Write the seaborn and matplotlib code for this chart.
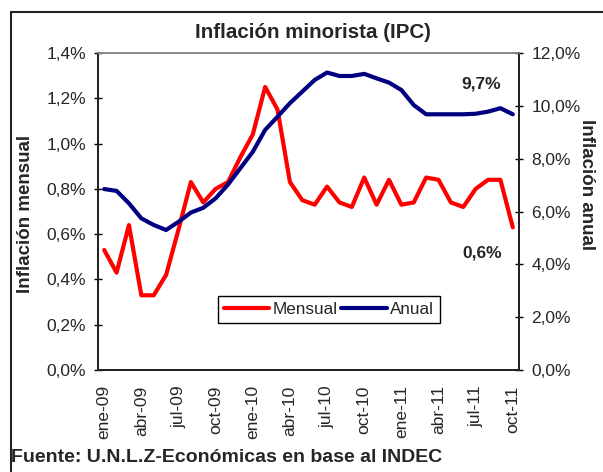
import numpy as np
import pandas as pd
import seaborn as sns
import matplotlib
matplotlib.use("Agg")
import matplotlib.pyplot as plt
from matplotlib.lines import Line2D

# Datos (ene-09 a oct-11)
meses = pd.date_range("2009-01-01", "2011-10-01", freq="MS")
mensual = [0.53, 0.43, 0.64, 0.33, 0.33, 0.42, 0.62, 0.83, 0.74, 0.80, 0.83, 0.94,
           1.04, 1.25, 1.15, 0.83, 0.75, 0.73, 0.81, 0.74, 0.72, 0.85, 0.73, 0.84,
           0.73, 0.74, 0.85, 0.84, 0.74, 0.72, 0.80, 0.84, 0.84, 0.63]
anual = [6.85, 6.78, 6.31, 5.74, 5.49, 5.30, 5.61, 5.96, 6.14, 6.50, 7.02, 7.64,
         8.26, 9.09, 9.59, 10.10, 10.54, 10.98, 11.26, 11.13, 11.13, 11.21, 11.04, 10.88,
         10.60, 10.03, 9.68, 9.68, 9.68, 9.68, 9.70, 9.78, 9.91, 9.68]
etiquetas_x = ['ene-09', 'abr-09', 'jul-09', 'oct-09', 'ene-10', 'abr-10',
               'jul-10', 'oct-10', 'ene-11', 'abr-11', 'jul-11', 'oct-11']
ticks_izq = [0.0, 0.2, 0.4, 0.6, 0.8, 1.0, 1.2, 1.4]
ticks_der = [0, 2, 4, 6, 8, 10, 12]

df = pd.DataFrame({'idx': np.arange(len(meses)), 'mensual': mensual, 'anual': anual})

sns.set_style("white")
plt.rcParams['font.family'] = ['Liberation Sans', 'DejaVu Sans']

W, H = 603, 472
fig = plt.figure(figsize=(W / 100, H / 100), dpi=100)
ax = fig.add_axes([98 / W, 1 - 370 / H, (519 - 98) / W, (370 - 53) / H])
ax2 = ax.twinx()

sns.lineplot(data=df, x='idx', y='mensual', ax=ax, color='#FF0000', linewidth=3.0, label='Mensual')
sns.lineplot(data=df, x='idx', y='anual', ax=ax2, color='#000080', linewidth=3.0, label='Anual')
for a in (ax, ax2):
    if a.get_legend() is not None:
        a.get_legend().remove()

ax.set_xlim(-0.5, len(meses) - 0.5)
ax.set_ylim(0, 1.4)
ax2.set_ylim(0, 12)

ax.set_xticks(np.arange(0, len(meses), 3))
ax.set_xticklabels(etiquetas_x, rotation=90, fontsize=12.5)
ax.set_xticks(np.arange(-0.5, len(meses), 1), minor=True)
ax.tick_params(axis='x', which='major', length=0, pad=11)
ax.tick_params(axis='x', which='minor', length=5.5, direction='inout', width=1, color='black')

ax.set_yticks(ticks_izq)
ax.set_yticklabels([f"{v:.1f}%".replace('.', ',') for v in ticks_izq], fontsize=12.5)
ax.tick_params(axis='y', length=5.5, direction='inout', width=1, color='black', pad=6, left=True)
ax2.set_yticks(ticks_der)
ax2.set_yticklabels([f"{v:.1f}%".replace('.', ',') for v in ticks_der], fontsize=12.5)
ax2.tick_params(axis='y', length=5.5, direction='inout', width=1, color='black', pad=6, right=True)

ax.set_xlabel('')
ax.set_ylabel('')
ax2.set_ylabel('')

for a in (ax, ax2):
    for s in ('left', 'right', 'bottom'):
        a.spines[s].set_color('#222222')
        a.spines[s].set_linewidth(1.4)
    a.spines['top'].set_color('#888888')
    a.spines['top'].set_linewidth(1.2)
    a.grid(False)

# leyenda combinada
handles = [ax.get_lines()[0], ax2.get_lines()[0]]
leg = ax2.legend(handles, ['Mensual', 'Anual'], ncol=2, loc='upper left',
                 bbox_to_anchor=(217.7 / W, 1 - 296 / H), bbox_transform=fig.transFigure,
                 borderaxespad=0, fontsize=12.3, handlelength=2.65, handletextpad=0.22,
                 columnspacing=0.2, borderpad=0.35, fancybox=False, framealpha=1,
                 edgecolor='black')
leg.get_frame().set_linewidth(1.0)

# textos
fig.text(313 / W, 1 - 32 / H, 'Inflación minorista (IPC)', ha='center', va='center',
         fontsize=14.8, fontweight='bold')
fig.text(26 / W, 1 - 214 / H, 'Inflación mensual', ha='center', va='center', rotation=90,
         fontsize=13.5, fontweight='bold')
fig.text(587 / W, 1 - 185 / H, 'Inflación anual', ha='center', va='center', rotation=-90,
         fontsize=13.5, fontweight='bold')
fig.text(481 / W, 1 - 84 / H, '9,7%', ha='center', va='center', fontsize=12.5, fontweight='bold')
fig.text(482 / W, 1 - 253 / H, '0,6%', ha='center', va='center', fontsize=12.5, fontweight='bold')
fig.text(11 / W, 1 - 458 / H, 'Fuente: U.N.L.Z-Económicas en base al INDEC', ha='left', va='center',
         fontsize=14.0, fontweight='bold')

# marco exterior del gráfico
fig.add_artist(Line2D([11 / W, 11 / W], [0, 1 - 12 / H], transform=fig.transFigure,
                      color='#222222', linewidth=1.5))
fig.add_artist(Line2D([11 / W, 1], [1 - 12 / H, 1 - 12 / H], transform=fig.transFigure,
                      color='#222222', linewidth=1.5))

fig.savefig('out.png', dpi=100)
